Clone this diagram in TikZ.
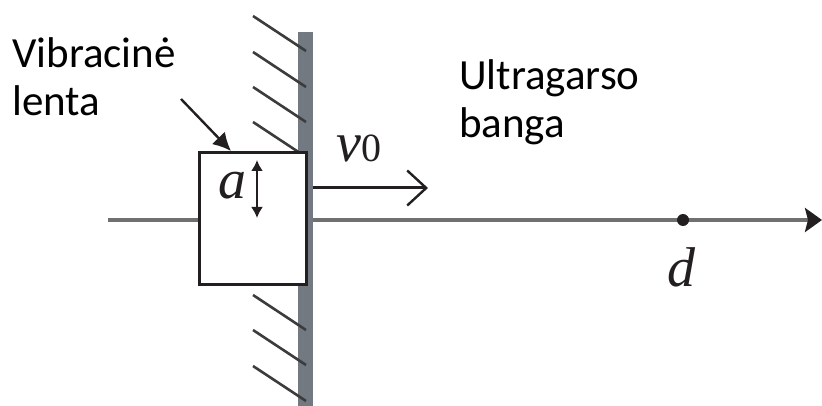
\documentclass[tikz,border=0pt]{standalone}
\usepackage{fontspec}
\setmainfont{Liberation Serif}
\newfontfamily\lblfont{Carlito}
\usetikzlibrary{arrows.meta}
\definecolor{wallgray}{HTML}{737980}
\definecolor{axisgray}{HTML}{707070}
\definecolor{hatchgray}{HTML}{3C3C3C}
\definecolor{ink}{HTML}{231F20}
\tikzset{
  lbl/.style={font=\lblfont\fontsize{43}{48}\selectfont, inner sep=0pt, anchor=base west, text=black},
  sym/.style={font=\itshape\fontsize{56}{60}\selectfont, inner sep=0pt, text=ink},
  hatch/.style={draw=hatchgray, line width=2.6pt},
  axisline/.style={draw=axisgray, line width=3.5pt},
}
\begin{document}
\begin{tikzpicture}[x=1pt,y=-1pt]
\useasboundingbox (0,0) rectangle (822,406);
% wall
\fill[wallgray] (298,32) rectangle (313,406);
% hatches
\foreach \y in {16,52,87,122,295,330,366}
  \draw[hatch] (253,\y) -- (306,\y+35);
% axis
\coordinate (axL) at (108,220);
\coordinate (axR) at (822,220);
\coordinate (wallR) at (313,220);
\draw[axisline] (axL) -- (199,220);
\draw[axisline, -{Stealth[length=17pt,width=24pt,inset=3pt,color=ink]}] (wallR) -- (axR);
% box
\node[draw=ink, line width=3pt, minimum width=107pt, minimum height=131pt, inner sep=0pt, fill=white] (box) at (252.5,218.5) {};
% point d
\fill[ink] (683,220) circle (6pt);
\coordinate (dpt) at (683,220);
\node[sym, anchor=base] (d) at (681,286) {d};
% a and double arrow
\node[sym, anchor=base] (a) at (232,199) {a};
\coordinate (aT) at (257,160);
\coordinate (aB) at (257,218);
\draw[ink, line width=2.4pt, {Latex[length=11pt,width=12pt]}-{Latex[length=11pt,width=12pt]}] (aT) -- (aB);
% v0 arrow
\coordinate (v0s) at (313,188);
\coordinate (v0e) at (428,188);
\draw[ink, line width=3pt, -{Straight Barb[length=19pt,width=35pt,line width=2.4pt]}] (v0s) -- (v0e);
\node[sym, anchor=base west] (v0) at (336,162) {v\fontsize{40}{40}\selectfont\upshape 0};
% labels
\node[lbl] (vib1) at (12,68) {Vibracinė};
\node[lbl] (vib2) at (12,116) {lenta};
\node[lbl] (ult1) at (459,90) {Ultragarso};
\node[lbl] (ult2) at (459,138) {banga};
% pointer
\coordinate (pS) at (181,99);
\coordinate (pE) at (231,151);
\draw[ink, line width=2.4pt, -{Latex[length=18pt,width=18pt]}] (pS) -- (pE);
\end{tikzpicture}
\end{document}
